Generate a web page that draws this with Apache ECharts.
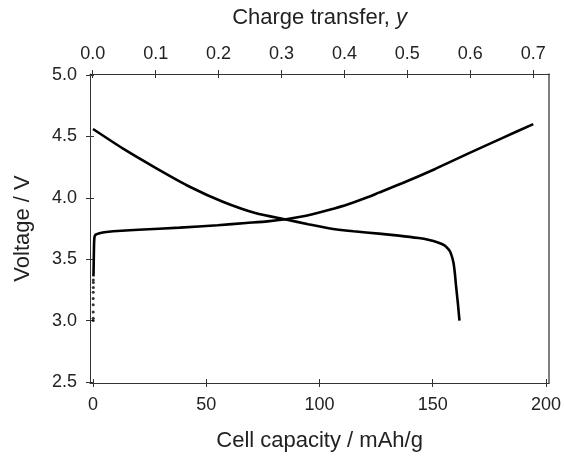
<!DOCTYPE html>
<html>
<head>
<meta charset="utf-8">
<script src="https://cdn.jsdelivr.net/npm/echarts@6/dist/echarts.min.js"></script>
<style>
  html, body { margin: 0; padding: 0; background: #fff; }
  #main { width: 564px; height: 457px; }
</style>
</head>
<body>
<div id="main"></div>
<script>
  // charge curve (rising), cell capacity in mAh/g vs voltage
  const chargeCap = [0.2, 0.3, 0.4, 0.5, 0.7, 1.2, 2.5, 5, 8.9, 20, 38.3, 55, 67.6, 77, 85.2, 91, 96.9, 104, 113, 121.8, 126.2, 136.5, 151.1, 165.8, 180.4, 194.4]
  const chargeVolt = [3.36, 3.45, 3.56, 3.64, 3.685, 3.70, 3.71, 3.72, 3.728, 3.74, 3.757, 3.777, 3.795, 3.808, 3.825, 3.843, 3.866, 3.90, 3.95, 4.008, 4.042, 4.118, 4.235, 4.362, 4.484, 4.60]
  // first sparse points of the charge at the very start
  const startCap = [0.1, 0.1, 0.1, 0.1, 0.1, 0.1, 0.15, 0.15, 0.15]
  const startVolt = [3.00, 3.02, 3.07, 3.13, 3.18, 3.23, 3.27, 3.31, 3.33]
  // discharge curve (falling)
  const dischargeCap = [0, 13.3, 28, 42.7, 57.3, 72, 85.2, 95, 104, 115, 126.2, 135, 143.8, 148, 152.6, 155, 156.8, 157.7, 158.5, 159.2, 159.8, 160.2, 161.1, 161.8]
  const dischargeVolt = [4.56, 4.40, 4.24, 4.09, 3.968, 3.874, 3.823, 3.785, 3.752, 3.727, 3.708, 3.692, 3.672, 3.658, 3.634, 3.615, 3.585, 3.561, 3.52, 3.467, 3.38, 3.30, 3.14, 3.0]

  const capTicks = [0, 50, 100, 150, 200]
  const transferTicks = [0, 0.1, 0.2, 0.3, 0.4, 0.5, 0.6, 0.7]
  const voltTicks = [2.5, 3.0, 3.5, 4.0, 4.5, 5.0]

  const zip = (xs, ys) => xs.map((x, i) => [x, ys[i]])

  const FONT = 'Liberation Sans'
  const lineCol = '#333'

  var myChart = echarts.init(document.getElementById('main'))

  // ticks cross the axis line, so each side gets an extra axis with inside ticks
  var tickAxis = function (values, inside) {
    return {
      show: true,
      inside: inside,
      length: 4,
      customValues: values,
      lineStyle: { color: lineCol, width: 1 },
    }
  }

  var option = {
    animation: false,
    grid: { left: 90, right: 13, top: 74, bottom: 74, containLabel: false },
    xAxis: [
      {
        type: 'value',
        position: 'bottom',
        min: -1.32,
        max: 201.4,
        name: 'Cell capacity / mAh/g',
        nameLocation: 'middle',
        nameGap: 47,
        nameTextStyle: { fontFamily: FONT, fontSize: 22, color: '#222' },
        axisLine: { onZero: false, lineStyle: { color: lineCol, width: 1 } },
        axisTick: tickAxis(capTicks, false),
        axisLabel: {
          customValues: capTicks,
          margin: 13,
          fontFamily: FONT,
          fontSize: 18,
          color: '#222',
        },
        splitLine: { show: false },
      },
      {
        type: 'value',
        position: 'bottom',
        min: -1.32,
        max: 201.4,
        axisLine: { show: false, onZero: false },
        axisTick: tickAxis(capTicks, true),
        axisLabel: { show: false },
        splitLine: { show: false },
      },
      {
        type: 'value',
        position: 'top',
        min: -0.0043,
        max: 0.7253,
        name: 'Charge transfer, {i|y}',
        nameLocation: 'middle',
        nameGap: 45,
        nameTextStyle: {
          fontFamily: FONT,
          fontSize: 22,
          color: '#222',
          rich: { i: { fontFamily: FONT, fontSize: 22, fontStyle: 'italic', color: '#222' } },
        },
        axisLine: { onZero: false, lineStyle: { color: lineCol, width: 1 } },
        axisTick: tickAxis(transferTicks, false),
        axisLabel: {
          customValues: transferTicks,
          margin: 11,
          fontFamily: FONT,
          fontSize: 18,
          color: '#222',
          formatter: function (v) { return v.toFixed(1) },
        },
        splitLine: { show: false },
      },
      {
        type: 'value',
        position: 'top',
        min: -0.0043,
        max: 0.7253,
        axisLine: { show: false, onZero: false },
        axisTick: tickAxis(transferTicks, true),
        axisLabel: { show: false },
        splitLine: { show: false },
      },
    ],
    yAxis: [
      {
        type: 'value',
        position: 'left',
        min: 2.492,
        max: 5.008,
        name: 'Voltage / V',
        nameLocation: 'middle',
        nameGap: 56,
        nameRotate: 90,
        nameTextStyle: { fontFamily: FONT, fontSize: 22, color: '#222' },
        axisLine: { show: true, onZero: false, lineStyle: { color: lineCol, width: 1 } },
        axisTick: tickAxis(voltTicks, false),
        axisLabel: {
          customValues: voltTicks,
          margin: 13,
          fontFamily: FONT,
          fontSize: 18,
          color: '#222',
          formatter: function (v) { return v.toFixed(1) },
        },
        splitLine: { show: false },
      },
      {
        type: 'value',
        position: 'left',
        min: 2.492,
        max: 5.008,
        axisLine: { show: false, onZero: false },
        axisTick: tickAxis(voltTicks, true),
        axisLabel: { show: false },
        splitLine: { show: false },
      },
      {
        type: 'value',
        position: 'right',
        min: 2.492,
        max: 5.008,
        axisLine: { show: true, onZero: false, lineStyle: { color: '#555', width: 1.5 } },
        axisTick: { show: false },
        axisLabel: { show: false },
        splitLine: { show: false },
      },
    ],
    series: [
      {
        type: 'line',
        xAxisIndex: 0,
        yAxisIndex: 0,
        data: zip(chargeCap, chargeVolt),
        symbol: 'none',
        smooth: 0.2,
        lineStyle: { color: '#000', width: 2.6 },
      },
      {
        type: 'line',
        xAxisIndex: 0,
        yAxisIndex: 0,
        data: zip(dischargeCap, dischargeVolt),
        symbol: 'none',
        smooth: 0.2,
        lineStyle: { color: '#000', width: 2.6 },
      },
      {
        type: 'scatter',
        xAxisIndex: 0,
        yAxisIndex: 0,
        data: zip(startCap, startVolt),
        symbolSize: 3,
        itemStyle: { color: '#000' },
      },
    ],
  }

  myChart.setOption(option)
</script>
</body>
</html>
